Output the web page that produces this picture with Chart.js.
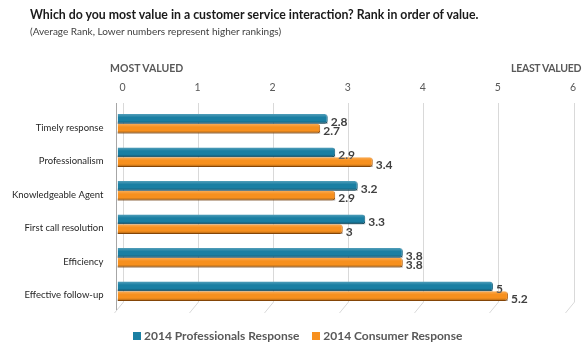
<!DOCTYPE html>
<html>

<head>
    <meta charset="utf-8" />
    <title>Customer service ranking</title>
    <style>
        body { margin: 0; background: #fff; font-family: Lato, "Open Sans", sans-serif; }
        #wrap { position: relative; width: 588px; height: 353px; overflow: hidden; }
        #chart { position: absolute; left: 0; top: 0; }
        .txt { position: absolute; white-space: nowrap; color: #404040; }
        .title { left: 30px; top: 7px; font-size: 12.3px; font-weight: bold; color: #1a1a1a; }
        .sub { left: 30px; top: 25px; font-size: 10px; color: #404040; }
        .end { top: 62px; font-size: 10.5px; font-weight: bold; color: #595959; }
        .legend { top: 328px; left: 133px; font-size: 12px; font-weight: bold; color: #595959; }
        .legend span.box { display: inline-block; width: 8px; height: 8px; margin-right: 3px; vertical-align: 0px; }
    </style>
</head>

<body>
    <div id="wrap">
        <canvas id="chart" width="588" height="353"></canvas>
        <div class="txt title">Which do you most value in a customer service interaction? Rank in order of value.</div>
        <div class="txt sub">(Average Rank, Lower numbers represent higher rankings)</div>
        <div class="txt end" style="left:110px">MOST VALUED</div>
        <div class="txt end" style="left:511px; letter-spacing:-0.3px">LEAST VALUED</div>
        <div class="txt legend">
            <span class="box" style="background:#1a7fa3"></span>2014 Professionals Response
            <span class="box" style="background:#f7901e; margin-left:10px"></span>2014 Consumer Response
        </div>
    </div>

    <script src="https://cdn.jsdelivr.net/npm/chart.js"></script>
    <script type="text/javascript">

        // datos
        const categorias = ['Timely response', 'Professionalism', 'Knowledgeable Agent',
            'First call resolution', 'Efficiency', 'Effective follow-up'];
        const profesionales = [2.8, 2.9, 3.2, 3.3, 3.8, 5];
        const consumidores = [2.7, 3.4, 2.9, 3, 3.8, 5.2];
        const ticksX = [0, 1, 2, 3, 4, 5, 6];

        // lineas de la rejilla con el efecto 3D (desplazadas y con la punta inclinada)
        const rejilla = {
            id: 'rejilla',
            beforeDatasetsDraw(chart) {
                const ctx = chart.ctx;
                const x = chart.scales.x;
                const area = chart.chartArea;
                ctx.save();
                ctx.lineWidth = 1;
                ctx.strokeStyle = '#d9d9d9';
                ticksX.forEach(v => {
                    const px = Math.round(x.getPixelForValue(v) + 5.5) + 0.5;
                    ctx.beginPath();
                    ctx.moveTo(px, area.top - 4);
                    ctx.lineTo(px, area.bottom - 6);
                    ctx.lineTo(px - 9, area.bottom + 5);
                    ctx.stroke();
                });
                // eje vertical
                ctx.strokeStyle = '#a6a6a6';
                const ax = Math.round(area.left - 2) + 0.5;
                ctx.beginPath();
                ctx.moveTo(ax, area.top - 4);
                ctx.lineTo(ax, area.bottom + 2);
                ctx.stroke();
                ctx.restore();
            }
        };

        // brillo arriba y sombra abajo en cada barra, y el valor al final
        const barras3d = {
            id: 'barras3d',
            afterDatasetsDraw(chart) {
                const ctx = chart.ctx;
                ctx.save();
                chart.data.datasets.forEach((ds, i) => {
                    const meta = chart.getDatasetMeta(i);
                    meta.data.forEach((bar, j) => {
                        const top = bar.y - bar.height / 2;
                        const bottom = bar.y + bar.height / 2;
                        const g = ctx.createLinearGradient(0, top, 0, bottom);
                        g.addColorStop(0, 'rgba(255,255,255,0.25)');
                        g.addColorStop(0.35, 'rgba(255,255,255,0)');
                        g.addColorStop(0.7, 'rgba(0,0,0,0)');
                        g.addColorStop(1, 'rgba(0,0,0,0.35)');
                        ctx.fillStyle = g;
                        ctx.fillRect(bar.base, top, bar.x - bar.base, bar.height);

                        ctx.fillStyle = '#404040';
                        ctx.font = 'bold 12px Lato, "Open Sans", sans-serif';
                        ctx.textBaseline = 'middle';
                        ctx.textAlign = 'left';
                        ctx.fillText(String(ds.data[j]), bar.x + 3, bar.y + 3);
                    });
                });
                ctx.restore();
            }
        };

        const ctx = document.getElementById('chart').getContext('2d');
        const myChart = new Chart(ctx, {
            type: 'bar',
            data: {
                labels: categorias,
                datasets: [{
                    label: '2014 Professionals Response',
                    data: profesionales,
                    backgroundColor: '#1a7fa3',
                    borderColor: '#0e5a78',
                    borderWidth: { top: 0, right: 1, bottom: 1, left: 0 },
                    borderSkipped: 'left',
                    borderRadius: { topRight: 3, bottomRight: 3 }
                }, {
                    label: '2014 Consumer Response',
                    data: consumidores,
                    backgroundColor: '#f7901e',
                    borderColor: '#b8600a',
                    borderWidth: { top: 0, right: 1, bottom: 1, left: 0 },
                    borderSkipped: 'left',
                    borderRadius: { topRight: 3, bottomRight: 3 }
                }]
            },
            options: {
                indexAxis: 'y',
                responsive: false,
                animation: false,
                categoryPercentage: 0.58,
                barPercentage: 1,
                layout: { padding: { left: 0, right: 20, top: 0, bottom: 45 } },
                plugins: {
                    legend: { display: false },
                    tooltip: { enabled: false }
                },
                scales: {
                    x: {
                        position: 'top',
                        min: 0,
                        max: 6,
                        afterBuildTicks: s => { s.ticks = ticksX.map(v => ({ value: v })); },
                        afterFit: s => { s.height = 107; },
                        grid: { display: false, drawTicks: false },
                        border: { display: false },
                        ticks: {
                            padding: 13,
                            labelOffset: 5,
                            color: '#595959',
                            font: { family: 'Lato, "Open Sans", sans-serif', size: 10.5 }
                        }
                    },
                    y: {
                        afterFit: s => { s.width = 117.5; },
                        grid: { display: false, drawTicks: false },
                        border: { display: false },
                        ticks: {
                            padding: 14,
                            labelOffset: 4,
                            color: '#262626',
                            font: { family: 'Lato, "Open Sans", sans-serif', size: 9.5 }
                        }
                    }
                }
            },
            plugins: [rejilla, barras3d]
        });

    </script>

</body>

</html>
